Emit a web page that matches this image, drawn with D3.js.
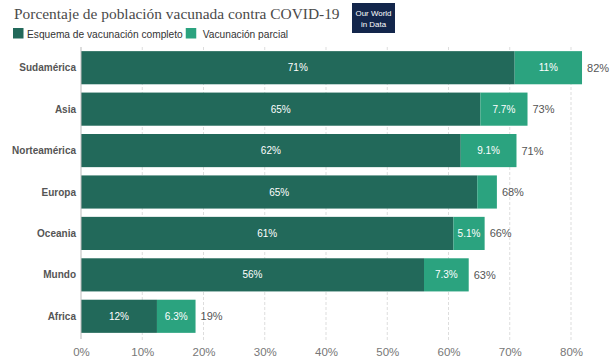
<!DOCTYPE html>
<html><head><meta charset="utf-8">
<script src="https://cdn.jsdelivr.net/npm/d3@7"></script>
<style>body{margin:0;background:#fff;}svg{display:block;}</style>
</head><body>
<svg id="c" width="616" height="359"></svg>
<script>
const categories = ["Sudamérica","Asia","Norteamérica","Europa","Oceania","Mundo","Africa"];
const fullyVaccinated = [70.8, 65.2, 62.0, 64.7, 60.8, 56.0, 12.4];
const partlyVaccinated = [11.0, 7.7, 9.1, 3.2, 5.1, 7.3, 6.3];
const tickValues = [0,10,20,30,40,50,60,70,80];
const seriesNames = ["Esquema de vacunación completo","Vacunación parcial"];
const title = "Porcentaje de población vacunada contra COVID-19";

const colors = ["#22695a", "#2ba37f"];
const sans = "Liberation Sans, Arial, sans-serif";
const svg = d3.select("#c");
const x = d3.scaleLinear().domain([0, 80]).range([81, 571]);
const y = d3.scaleBand().domain(categories).range([47, 337]).paddingInner(0.2).paddingOuter(0.1);

function fit(sel, target, base) {
  const w = sel.node().getComputedTextLength();
  sel.attr("font-size", base * target / w);
}

// gridlines
svg.append("g").selectAll("line").data(tickValues.filter(d=>d>0)).join("line")
  .attr("x1", d=>x(d)).attr("x2", d=>x(d)).attr("y1", 47).attr("y2", 342)
  .attr("stroke", "#dddddd").attr("stroke-dasharray", "3,2").attr("stroke-width", 1);

// title
const t = svg.append("text").attr("x", 14).attr("y", 19)
  .attr("font-family", "Liberation Serif, DejaVu Serif, serif").attr("font-size", 18)
  .attr("fill", "#4a4a4a").text(title);
fit(t, 326, 18);

// logo
const logo = svg.append("g").attr("transform", "translate(352,3)");
logo.append("rect").attr("width", 43).attr("height", 30).attr("fill", "#13264b");
const l1 = logo.append("text").attr("x", 21.5).attr("y", 13).attr("text-anchor","middle")
  .attr("font-family",sans).attr("font-size",9).attr("fill","#fff").text("Our World");
fit(l1, 36, 9);
const l2 = logo.append("text").attr("x", 21.5).attr("y", 24).attr("text-anchor","middle")
  .attr("font-family",sans).attr("font-size",9).attr("fill","#fff").text("in Data");
l2.attr("font-size", l1.attr("font-size"));

// legend
let lx = 13, fs = null;
seriesNames.forEach((n,i)=>{
  svg.append("rect").attr("x", lx).attr("y", 28).attr("width", 10.5).attr("height", 10.5).attr("fill", colors[i]);
  const lt = svg.append("text").attr("x", lx + (i ? 17 : 14)).attr("y", 37.5)
    .attr("font-family",sans).attr("font-size", 11).attr("fill","#333").text(n);
  if (fs === null) { fit(lt, 156, 11); fs = lt.attr("font-size"); } else lt.attr("font-size", fs);
  lx = +lt.attr("x") + lt.node().getComputedTextLength() + 3;
});

const data = categories.map((c,i)=>({c, f: fullyVaccinated[i], p: partlyVaccinated[i]}));
const fmtP = v => d3.format(".2~r")(v) + "%";
const g = svg.append("g");
g.selectAll("rect.f").data(data).join("rect").attr("class","f")
  .attr("x", x(0)).attr("y", d=>y(d.c)).attr("width", d=>x(d.f)-x(0)).attr("height", y.bandwidth()).attr("fill", colors[0]);
g.selectAll("rect.p").data(data).join("rect").attr("class","p")
  .attr("x", d=>x(d.f)).attr("y", d=>y(d.c)).attr("width", d=>x(d.f+d.p)-x(d.f)).attr("height", y.bandwidth()).attr("fill", colors[1]);
g.selectAll("text.fl").data(data).join("text").attr("class","fl")
  .attr("x", d=>(x(0)+x(d.f))/2).attr("y", d=>y(d.c)+y.bandwidth()/2+3.5)
  .attr("text-anchor","middle").attr("font-family",sans).attr("font-size",10)
  .attr("fill","#fff").text(d=>Math.round(d.f)+"%");
g.selectAll("text.pl").data(data.filter(d=>x(d.f+d.p)-x(d.f)>28)).join("text").attr("class","pl")
  .attr("x", d=>(x(d.f)+x(d.f+d.p))/2).attr("y", d=>y(d.c)+y.bandwidth()/2+3.5)
  .attr("text-anchor","middle").attr("font-family",sans).attr("font-size",10)
  .attr("fill","#fff").text(d=>fmtP(d.p));
g.selectAll("text.tl").data(data).join("text").attr("class","tl")
  .attr("x", d=>x(d.f+d.p)+5).attr("y", d=>y(d.c)+y.bandwidth()/2+4)
  .attr("font-family",sans).attr("font-size",11)
  .attr("fill","#555").text(d=>Math.round(d.f+d.p)+"%");
g.selectAll("text.cl").data(data).join("text").attr("class","cl")
  .attr("x", 76).attr("y", d=>y(d.c)+y.bandwidth()/2+3.5)
  .attr("text-anchor","end").attr("font-family",sans).attr("font-size",10).attr("font-weight","bold")
  .attr("fill","#555").text(d=>d.c);

// zero axis line
svg.append("line").attr("x1", x(0)).attr("x2", x(0)).attr("y1", 47).attr("y2", 339).attr("stroke","#bbb");

// x axis
const ax = svg.append("g").attr("transform","translate(0,343)")
  .call(d3.axisBottom(x).tickValues(tickValues).tickSize(0).tickPadding(5).tickFormat(d=>d+"%"));
ax.select(".domain").remove();
ax.selectAll("text").attr("font-family",sans).attr("font-size",11.5).attr("fill","#777");
</script>
</body></html>
